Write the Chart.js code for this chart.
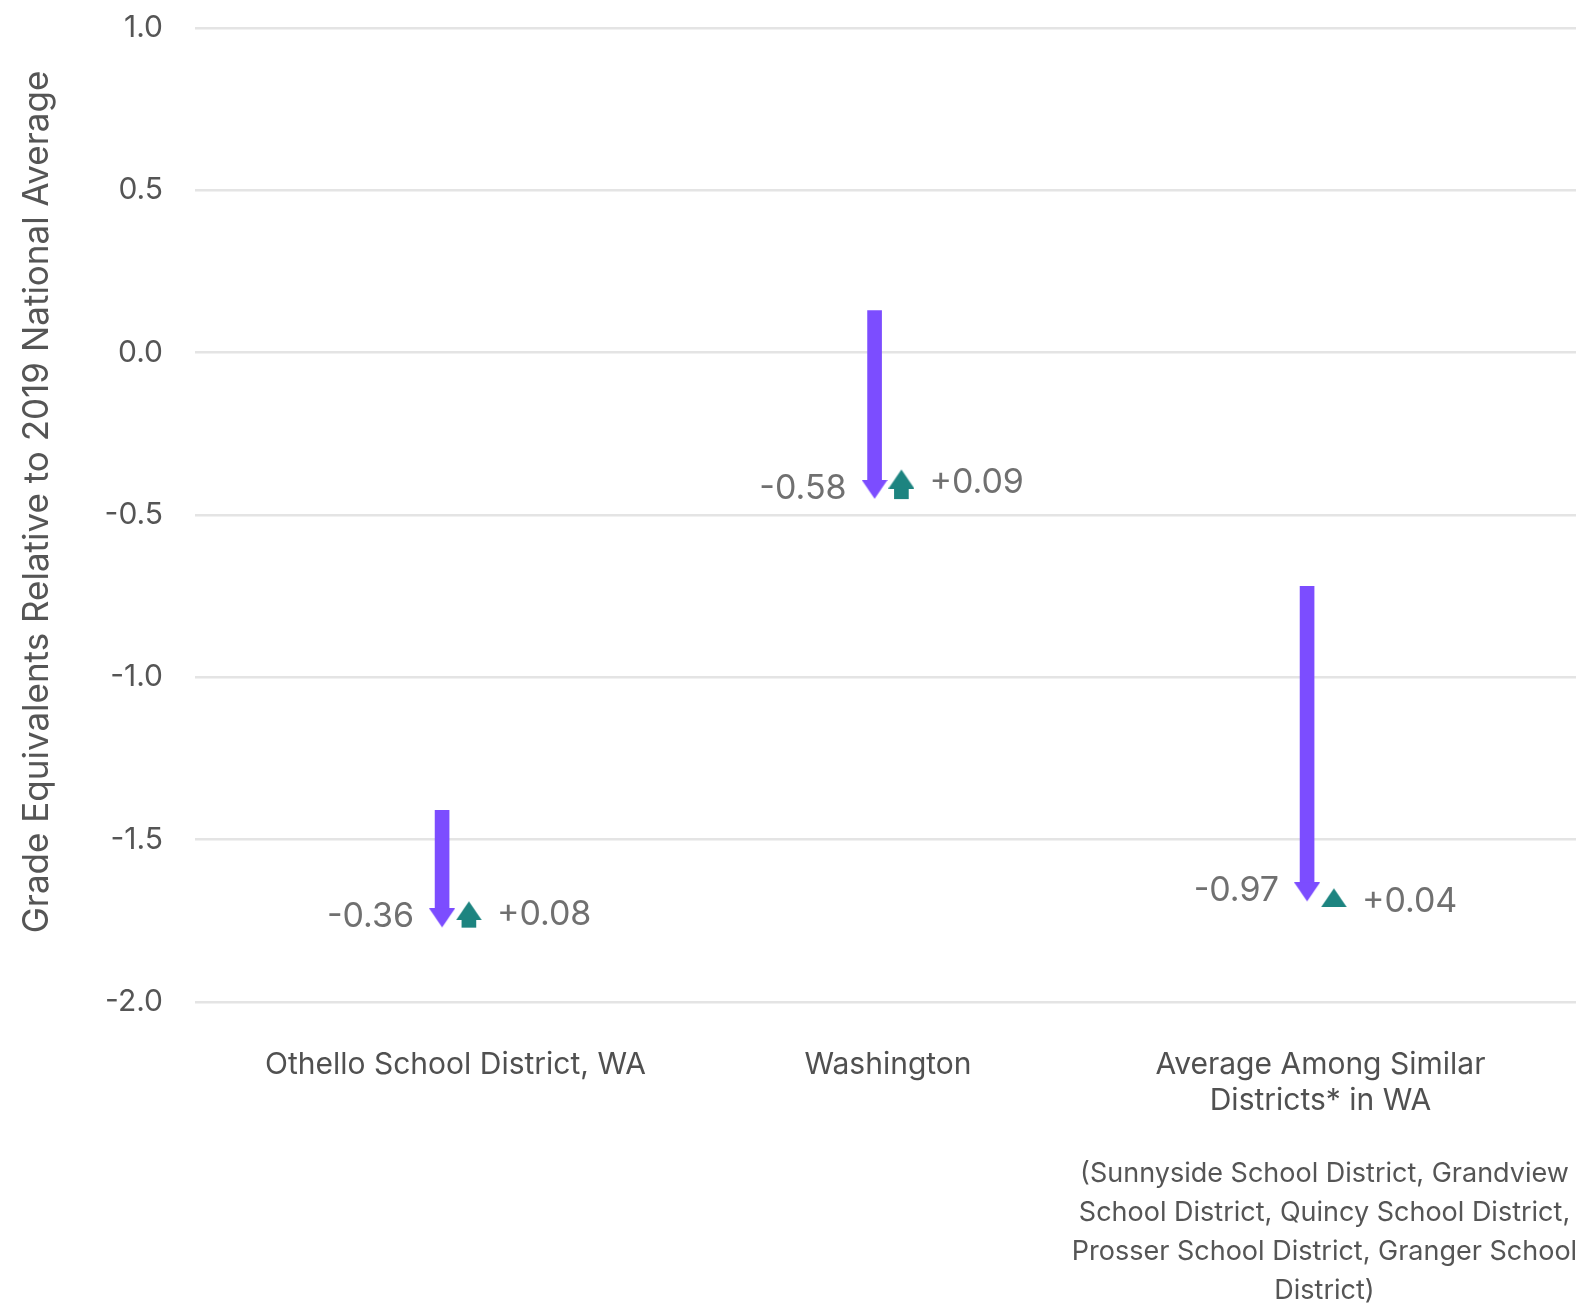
<!DOCTYPE html>
<html>
<head>
<meta charset="utf-8">
<script src="https://cdn.jsdelivr.net/npm/chart.js@4"></script>
<style>
  html, body { margin: 0; padding: 0; background: #fff; }
  #wrap { width: 1576px; height: 1307px; position: relative; }
</style>
</head>
<body>
<div id="wrap"><canvas id="myChart"></canvas></div>
<script>
// data
const categories = ["Othello School District, WA", "Washington", "Average Among Similar Districts* in WA"];
const tickLabels = [["Othello School District, WA"], ["Washington"], ["Average Among Similar", "Districts* in WA"]];
const startLevel = [-1.41, 0.13, -0.72];   // before the drop
const drop = [-0.36, -0.58, -0.97];        // purple arrow
const gain = [0.08, 0.09, 0.04];           // teal arrow
const yTicks = [1.0, 0.5, 0.0, -0.5, -1.0, -1.5, -2.0];
const yTitle = "Grade Equivalents Relative to 2019 National Average";
const footnote = [
  "(Sunnyside School District, Grandview",
  "School District, Quincy School District,",
  "Prosser School District, Granger School",
  "District)"
];

const PURPLE = "#7c4dff";
const TEAL = "#1d8480";
const FONT = "Inter";
const SHIFT = 0.031;   // arrows sit either side of the category centre
const HEAD = 19;       // arrowhead length in px

const endLevel = startLevel.map((s, i) => s + drop[i]);
const afterGain = endLevel.map((e, i) => e + gain[i]);

function headImage(color, down) {
  const c = document.createElement("canvas");
  c.width = 26;
  c.height = HEAD * 2;
  const ctx = c.getContext("2d");
  ctx.fillStyle = color;
  ctx.beginPath();
  if (down) {
    ctx.moveTo(0, 0); ctx.lineTo(26, 0); ctx.lineTo(13, HEAD);
  } else {
    ctx.moveTo(13, HEAD); ctx.lineTo(26, HEAD * 2); ctx.lineTo(0, HEAD * 2);
  }
  ctx.closePath();
  ctx.fill();
  return c;
}

// shafts stop where the heads start
const trimShafts = {
  id: "trimShafts",
  afterDatasetsUpdate(chart) {
    const y = chart.scales.y;
    chart.getDatasetMeta(0).data.forEach((bar, i) => {
      bar.y = y.getPixelForValue(startLevel[i]);
      bar.base = y.getPixelForValue(endLevel[i]) - HEAD;
    });
    chart.getDatasetMeta(1).data.forEach((bar, i) => {
      const foot = y.getPixelForValue(endLevel[i]);
      const tip = y.getPixelForValue(afterGain[i]);
      bar.base = foot;
      bar.y = Math.min(foot, tip + HEAD);
    });
  }
};

const valueLabels = {
  id: "valueLabels",
  afterDatasetsDraw(chart) {
    const { ctx, scales: { x, y } } = chart;
    ctx.save();
    ctx.font = "34px " + FONT;
    ctx.fillStyle = "#707070";
    categories.forEach((c, i) => {
      ctx.textAlign = "right";
      ctx.textBaseline = "alphabetic";
      ctx.fillText(drop[i].toFixed(2), x.getPixelForValue(i - SHIFT) - 28, y.getPixelForValue(endLevel[i]));
      ctx.textAlign = "left";
      ctx.textBaseline = "middle";
      ctx.fillText("+" + gain[i].toFixed(2), x.getPixelForValue(i + SHIFT) + 28, y.getPixelForValue(afterGain[i]) + 13);
    });
    ctx.restore();
  }
};

const extraText = {
  id: "extraText",
  afterDraw(chart) {
    const { ctx, scales: { x, y } } = chart;
    ctx.save();
    // footnote under the third category
    ctx.font = "27px " + FONT;
    ctx.fillStyle = "#555";
    ctx.textAlign = "center";
    ctx.textBaseline = "alphabetic";
    const cx = x.getPixelForValue(2) + 4;
    footnote.forEach((line, k) => ctx.fillText(line, cx, x.top + 180 + k * 39));
    // y axis title, sits a little above the axis centre
    ctx.translate(37, (y.top + y.bottom) / 2 - 13);
    ctx.rotate(-Math.PI / 2);
    ctx.font = "35px " + FONT;
    ctx.textBaseline = "middle";
    ctx.fillText(yTitle, 0, 0);
    ctx.restore();
  }
};

const config = {
  type: "bar",
  data: {
    datasets: [
      {
        type: "bar",
        data: categories.map((c, i) => ({ x: i - SHIFT, y: [startLevel[i], endLevel[i]] })),
        backgroundColor: PURPLE,
        barThickness: 14,
        grouped: false
      },
      {
        type: "bar",
        data: categories.map((c, i) => ({ x: i + SHIFT, y: [endLevel[i], afterGain[i]] })),
        backgroundColor: TEAL,
        barThickness: 14,
        grouped: false
      },
      {
        type: "scatter",
        data: categories.map((c, i) => ({ x: i - SHIFT, y: endLevel[i] })),
        pointStyle: headImage(PURPLE, true),
        pointRadius: 10
      },
      {
        type: "scatter",
        data: categories.map((c, i) => ({ x: i + SHIFT, y: afterGain[i] })),
        pointStyle: headImage(TEAL, false),
        pointRadius: 10
      }
    ]
  },
  options: {
    responsive: true,
    maintainAspectRatio: false,
    animation: false,
    layout: { autoPadding: false, padding: { top: 28, right: 0, bottom: 0, left: 0 } },
    plugins: { legend: { display: false }, tooltip: { enabled: false } },
    scales: {
      x: {
        type: "linear",
        min: -0.6023,
        max: 2.5908,
        offset: false,
        grid: { display: false, offset: false },
        border: { display: false },
        afterBuildTicks: (axis) => { axis.ticks = categories.map((c, i) => ({ value: i })); },
        afterFit: (axis) => {
          axis.height = 305;
          axis.paddingLeft = 0;
          axis.paddingRight = 0;
        },
        ticks: {
          autoSkip: false,
          maxRotation: 0,
          padding: 37,
          color: "#505050",
          font: { family: FONT, size: 30, lineHeight: 1.2 },
          callback: (v) => tickLabels[v]
        }
      },
      y: {
        min: -2,
        max: 1,
        grid: { color: "#e4e4e4", lineWidth: 2.5, drawTicks: false },
        border: { display: false },
        afterBuildTicks: (axis) => { axis.ticks = yTicks.map((v) => ({ value: v })); },
        afterFit: (axis) => {
          axis.width = 195;
          axis.paddingTop = 0;
          axis.paddingBottom = 0;
        },
        ticks: {
          padding: 32,
          color: "#555",
          font: { family: FONT, size: 30 },
          callback: (v) => v.toFixed(1)
        }
      }
    }
  },
  plugins: [trimShafts, valueLabels, extraText]
};

new Chart(document.getElementById("myChart"), config);
</script>
</body>
</html>
